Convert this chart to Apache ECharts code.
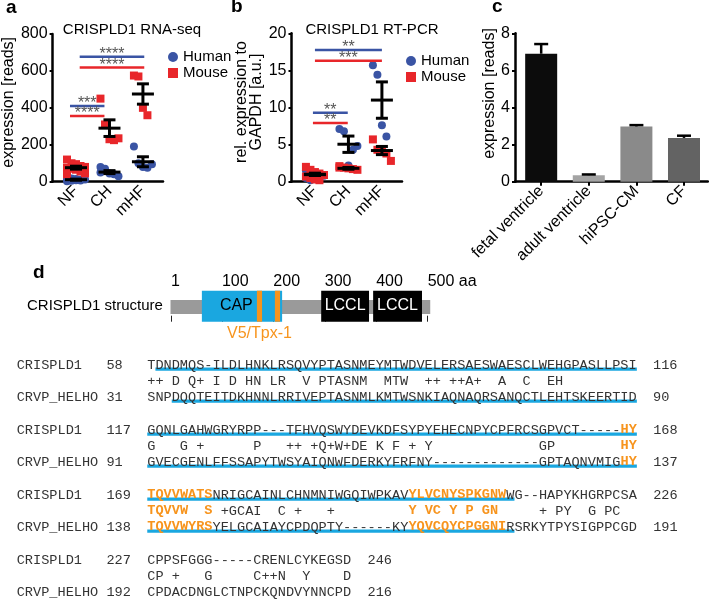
<!DOCTYPE html>
<html><head><meta charset="utf-8">
<script src="https://cdn.jsdelivr.net/npm/echarts@6/dist/echarts.min.js"></script>
<style>html,body{margin:0;padding:0;background:#fff}#c{width:709px;height:601px}</style>
</head><body><div id="c"></div>
<script>
// ---------------- data ----------------
const groupsAB = ['NF', 'CH', 'mHF'];
// panel a: RNA-seq reads
const rnaHuman = [[3, 5, 8, 10, 12, 15, 18, 14, 7], [80, 70, 45, 40, 30, 50, 60], [190, 100, 80, 75, 95]];
const rnaMouse = [[120, 100, 95, 85, 80, 75, 70, 65, 55, 45, 40], [450, 310, 230, 225, 235], [575, 570, 400, 360]];
const rnaHumanMean = [11, 52, 108], rnaHumanSem = [3, 8, 27];
const rnaMouseMean = [76, 290, 475], rnaMouseSem = [8, 45, 55];
const rnaSigFrom = [0.11, 0.11, -0.18, -0.18];
const rnaSigTo = [2.04, 2.04, 0.85, 0.85];
const rnaSigY = [677, 619, 410, 356];
const rnaSigSpecies = [0, 1, 0, 1]; // 0 human, 1 mouse
const rnaSigLabel = ['****', '****', '***', '****'];
// panel b: RT-PCR
const pcrHuman = [[1.5, 1.3, 1.1, 1.0, 0.8, 0.5, 0.2], [7.1, 6.8, 2.2, 4.3, 4.8], [15.7, 14.4, 7.6, 6.1]];
const pcrMouse = [[2.0, 1.6, 1.3, 1.1, 0.9, 0.7, 0.5, 0.3, 0.2, 0.9], [2.1, 1.9, 1.8, 1.7, 1.6, 1.9], [5.7, 4.3, 4.0, 3.8, 2.8]];
const pcrHumanMean = [1.0, 5.05, 11.0], pcrHumanSem = [0.15, 1.1, 2.45];
const pcrMouseMean = [0.95, 1.8, 4.2], pcrMouseSem = [0.1, 0.12, 0.55];
const pcrSigFrom = [0, 0, -0.06, -0.06];
const pcrSigTo = [2.0, 2.0, 0.98, 0.98];
const pcrSigY = [17.75, 16.3, 9.3, 7.9];
const pcrSigSpecies = [0, 1, 0, 1];
const pcrSigLabel = ['**', '***', '**', '**'];
// panel c
const tissues = ['fetal ventricle', 'adult ventricle', 'hiPSC-CM', 'CF'];
const tissueReads = [6.9, 0.35, 2.98, 2.36];
const tissueSem = [0.52, 0.04, 0.07, 0.12];
// panel d: structure (aa)
const structStart = [0, 61, 168, 203, 293, 394];
const structEnd = [505, 217, 178, 213, 386, 489];
const structKind = [0, 1, 2, 2, 3, 3]; // 0 backbone, 1 CAP, 2 V5/Tpx-1, 3 LCCL
const structScale = [1, 100, 200, 300, 400, 500];
const capLabelAt = 128, v5LabelAt = 173;
// panel d: alignment
const queryName = 'CRISPLD1', subjName = 'CRVP_HELHO';
const queryStarts = [58, 117, 169, 227], queryEnds = [116, 168, 226, 246];
const subjStarts = [31, 91, 138, 192], subjEnds = [90, 137, 191, 216];
const querySeqs = [
  'TDNDMQS-ILDLHNKLRSQVYPTASNMEYMTWDVELERSAESWAESCLWEHGPASLLPSI',
  'GQNLGAHWGRYRPP---TFHVQSWYDEVKDFSYPYEHECNPYCPFRCSGPVCT-----HY',
  'TQVVWATSNRIGCAINLCHNMNIWGQIWPKAVYLVCNYSPKGNWWG--HAPYKHGRPCSA',
  'CPPSFGGG-----CRENLCYKEGSD'
];
const midLines = [
  '++ D Q+ I D HN LR  V PTASNM  MTW  ++ ++A+  A  C  EH',
  'G   G +' + ' '.repeat(6) + 'P   ++ +Q+W+DE K F + Y' + ' '.repeat(13) + 'GP' + ' '.repeat(8) + 'HY',
  'TQVVW  S +GCAI  C +   +' + ' '.repeat(9) + 'Y VC Y P GN' + ' '.repeat(5) + '+ PY  G PC',
  'CP +   G     C++N  Y    D'
];
const subjSeqs = [
  'SNPDQQTEITDKHNNLRRIVEPTASNMLKMTWSNKIAQNAQRSANQCTLEHTSKEERTID',
  'GVECGENLFFSSAPYTWSYAIQNWFDERKYFRFNY' + '-'.repeat(13) + 'GPTAQNVMIGHY',
  'TQVVWYRSYELGCAIAYCPDQPTY------KYYQVCQYCPGGNIRSRKYTPYSIGPPCGD',
  'CPDACDNGLCTNPCKQNDVYNNCPD'
];
const highlightRanges = [[], [[59, 60]], [[1, 8], [33, 44]], []];
const queryUnderline = [[2, 60], [1, 60], [1, 45], null];
const subjUnderline = [[4, 60], [1, 60], [1, 45], null];

// ---------------- styles ----------------
const FONT = "'Liberation Sans', Arial, sans-serif";
const MONO = "'Liberation Mono', 'Courier New', monospace";
const BLUE = '#3a54a4', RED = '#e8262a', ORANGE = '#f7941d', CYAN = '#1aa7e0';
const tissueColors = ['#0c0c0c', '#a4a4a4', '#8a8a8a', '#636363'];

function scatterData(groups) {
  const out = [];
  groups.forEach((vals, g) => vals.forEach((v, i) => out.push({ value: [g, v], symbolOffset: [((i % 5) - 2) * 4.5, 0] })));
  return out;
}
function meanData(m, s) { return m.map((v, i) => [i, v, s[i]]); }
function renderMeanSem(params, api) {
  const x = api.value(0), m = api.value(1), s = api.value(2);
  const c = api.coord([x, m]), t = api.coord([x, m + s]), b = api.coord([x, m - s]);
  const st = { stroke: '#000', lineWidth: 3 };
  return { type: 'group', children: [
    { type: 'line', shape: { x1: c[0] - 11, y1: c[1], x2: c[0] + 11, y2: c[1] }, style: st },
    { type: 'line', shape: { x1: c[0], y1: t[1], x2: c[0], y2: b[1] }, style: st },
    { type: 'line', shape: { x1: c[0] - 6, y1: t[1], x2: c[0] + 6, y2: t[1] }, style: st },
    { type: 'line', shape: { x1: c[0] - 6, y1: b[1], x2: c[0] + 6, y2: b[1] }, style: st }
  ] };
}
function makeSigRender(labels) {
  return function (params, api) {
    const p1 = api.coord([api.value(0), api.value(2)]);
    const p2 = api.coord([api.value(1), api.value(2)]);
    const col = api.value(3) === 0 ? BLUE : RED;
    return { type: 'group', children: [
      { type: 'line', shape: { x1: p1[0], y1: p1[1], x2: p2[0], y2: p2[1] }, style: { stroke: col, lineWidth: 2.5 } },
      { type: 'text', x: (p1[0] + p2[0]) / 2, y: p1[1] - 2, style: { text: labels[params.dataIndex], fill: '#555', fontSize: 16, fontFamily: FONT, align: 'center', verticalAlign: 'middle' } }
    ] };
  };
}
function sigData(from, to, y, sp) { return from.map((f, i) => [f, to[i], y[i], sp[i]]); }

function renderStruct(params, api) {
  const k = api.value(2);
  const top = k === 0 ? 0.70 : 1, bot = k === 0 ? 0.25 : 0;
  const p0 = api.coord([api.value(0), top]), p1 = api.coord([api.value(1), bot]);
  const fills = ['#9a9a9a', CYAN, ORANGE, '#000'];
  const ch = [{ type: 'rect', shape: { x: p0[0], y: p0[1], width: p1[0] - p0[0], height: p1[1] - p0[1] }, style: { fill: fills[k] }, z2: k }];
  const txt = { fontSize: 16, fontFamily: FONT, align: 'center', verticalAlign: 'middle' };
  if (k === 1) {
    const c = api.coord([capLabelAt, 0.5]);
    ch.push({ type: 'text', x: c[0], y: c[1] - 1, z2: 5, style: Object.assign({ text: 'CAP', fill: '#000' }, txt) });
  }
  if (k === 3) {
    const c = api.coord([(api.value(0) + api.value(1)) / 2, 0.5]);
    ch.push({ type: 'text', x: c[0], y: c[1] - 1, z2: 5, style: Object.assign({ text: 'LCCL', fill: '#fff' }, txt) });
  }
  if (k === 2 && params.dataIndex === 2) {
    const c = api.coord([v5LabelAt, 0]);
    ch.push({ type: 'text', x: c[0], y: c[1] + 12, z2: 5, style: Object.assign({ text: 'V5/Tpx-1', fill: ORANGE }, txt) });
  }
  return { type: 'group', children: ch };
}

// ---------------- alignment graphics ----------------
const seqFont = 13.6, charW = seqFont * 0.6, col0X = 16.7;
const blockTop = 365, blockStep = 65, rowStep = 16;
function pad(s, n) { s = String(s); while (s.length < n) s += ' '; return s; }
const graphics = [];
function addRow(str, y, ranges) {
  const marks = new Array(str.length).fill(false);
  ranges.forEach(r => { for (let p = r[0]; p <= r[1]; p++) { const c = 15 + p; if (c < marks.length) marks[c] = true; } });
  let i = 0;
  while (i < str.length) {
    let j = i; const hl = marks[i];
    while (j < str.length && marks[j] === hl) j++;
    const seg = str.slice(i, j);
    if (seg.trim().length) {
      graphics.push({ type: 'text', x: col0X + i * charW, y: y, z: 10, silent: true,
        style: { text: seg, fontSize: seqFont, fontFamily: MONO, fontWeight: hl ? 'bold' : 'normal', fill: hl ? ORANGE : '#333', align: 'left', verticalAlign: 'middle' } });
    }
    i = j;
  }
}
function addUnderline(r, y) {
  if (!r) return;
  const x1 = col0X + (15 + r[0]) * charW, x2 = col0X + (16 + r[1]) * charW;
  graphics.push({ type: 'rect', z: 5, silent: true, shape: { x: x1, y: y + 2.5, width: x2 - x1, height: 3.2 }, style: { fill: CYAN } });
}
querySeqs.forEach((qs, b) => {
  const y0 = blockTop + b * blockStep;
  const qRow = pad(queryName, 11) + pad(queryStarts[b], 5) + qs + '  ' + queryEnds[b];
  const mRow = pad('', 16) + midLines[b];
  const sRow = pad(subjName, 11) + pad(subjStarts[b], 5) + subjSeqs[b] + '  ' + subjEnds[b];
  addUnderline(queryUnderline[b], y0);
  addUnderline(subjUnderline[b], y0 + 2 * rowStep);
  addRow(qRow, y0, highlightRanges[b]);
  addRow(mRow, y0 + rowStep, highlightRanges[b]);
  addRow(sRow, y0 + 2 * rowStep, highlightRanges[b]);
});
// panel labels & titles
const lab = (t, x, y) => ({ type: 'text', x: x, y: y, style: { text: t, fontSize: 19, fontWeight: 'bold', fontFamily: FONT, fill: '#000', align: 'left', verticalAlign: 'middle' } });
graphics.push(lab('a', 6, 8), lab('b', 231, 7), lab('c', 492, 7), lab('d', 33, 273));
const ttl = (t, x, y) => ({ type: 'text', x: x, y: y, style: { text: t, fontSize: 15, fontFamily: FONT, fill: '#000', align: 'center', verticalAlign: 'middle' } });
graphics.push(ttl('CRISPLD1 RNA-seq', 132, 30), ttl('CRISPLD1 RT-PCR', 372, 30));
graphics.push({ type: 'text', x: 27, y: 306, style: { text: 'CRISPLD1 structure', fontSize: 15, fontFamily: FONT, fill: '#000', align: 'left', verticalAlign: 'middle' } });

// ---------------- axes helpers ----------------
const axLine = { show: true, onZero: false, lineStyle: { color: '#000', width: 2.5 } };
const tickLab = { color: '#000', fontSize: 16, fontFamily: FONT };
function catX(grid, min, max, names) {
  return { type: 'value', gridIndex: grid, min: min, max: max, axisLine: axLine, splitLine: { show: false },
    axisTick: grid === 2 ? { show: true, customValues: names.map((n, i) => i), length: 4, lineStyle: { color: '#000', width: 2 } } : { show: false },
    axisLabel: Object.assign({ customValues: names.map((n, i) => i), formatter: v => names[v], rotate: 45, margin: 7 }, tickLab) };
}
function valY(grid, max, interval, name, gap, padLeft) {
  return { type: 'value', gridIndex: grid, min: 0, max: max, interval: interval, axisLine: axLine, splitLine: { show: false },
    axisTick: { show: true, length: 3, lineStyle: { color: '#000', width: 2 } },
    axisLabel: Object.assign({ margin: 5 }, tickLab),
    name: name, nameLocation: 'middle', nameGap: gap,
    nameTextStyle: { color: '#000', fontSize: 16, fontFamily: FONT, lineHeight: 15, padding: [0, 0, 0, padLeft] } };
}

const option = {
  animation: false,
  backgroundColor: '#fff',
  textStyle: { fontFamily: FONT },
  grid: [
    { left: 51.7, top: 34, width: 111.3, height: 147.7 },
    { left: 291.5, top: 33.3, width: 110.5, height: 148.4 },
    { left: 515, top: 33.3, width: 192.8, height: 148.4 },
    { left: 170.5, top: 290.7, width: 262.3, height: 31 }
  ],
  xAxis: [
    catX(0, -0.7, 2.6, groupsAB),
    catX(1, -0.7, 2.6, groupsAB),
    catX(2, -0.55, 3.5, tissues),
    { type: 'value', gridIndex: 3, min: 0, max: 510, position: 'top', axisLine: { show: false }, splitLine: { show: false },
      axisTick: { show: true, customValues: structScale, length: 6, lineStyle: { color: '#222', width: 1 } },
      axisLabel: Object.assign({ customValues: structScale, align: 'left', margin: 1, formatter: v => v === 500 ? '500 aa' : String(v) }, tickLab) }
  ],
  yAxis: [
    valY(0, 800, 200, 'expression [reads]', 33, 11),
    valY(1, 20, 5, 'rel. expression to\nGAPDH [a.u.]', 15, 11),
    valY(2, 8, 2, 'expression [reads]', 15, 28),
    { type: 'value', gridIndex: 3, min: 0, max: 1, show: false }
  ],
  legend: [
    { data: ['Human', 'Mouse'], orient: 'vertical', left: 163, top: 44, itemWidth: 10, itemHeight: 10, itemGap: 0, selectedMode: false, textStyle: { fontSize: 15, fontFamily: FONT, color: '#000', lineHeight: 16 } },
    { data: ['Human', 'Mouse'], orient: 'vertical', left: 401, top: 48, itemWidth: 10, itemHeight: 10, itemGap: 0, selectedMode: false, textStyle: { fontSize: 15, fontFamily: FONT, color: '#000', lineHeight: 16 } }
  ],
  series: [
    { name: 'Human', type: 'scatter', xAxisIndex: 0, yAxisIndex: 0, symbol: 'circle', symbolSize: 8, itemStyle: { color: BLUE, opacity: 1 }, data: scatterData(rnaHuman), z: 2 },
    { name: 'Mouse', type: 'scatter', xAxisIndex: 0, yAxisIndex: 0, symbol: 'rect', symbolSize: 8, itemStyle: { color: RED, opacity: 1 }, data: scatterData(rnaMouse), z: 2 },
    { type: 'custom', xAxisIndex: 0, yAxisIndex: 0, renderItem: renderMeanSem, data: meanData(rnaHumanMean, rnaHumanSem), z: 4 },
    { type: 'custom', xAxisIndex: 0, yAxisIndex: 0, renderItem: renderMeanSem, data: meanData(rnaMouseMean, rnaMouseSem), z: 4 },
    { type: 'custom', xAxisIndex: 0, yAxisIndex: 0, renderItem: makeSigRender(rnaSigLabel), data: sigData(rnaSigFrom, rnaSigTo, rnaSigY, rnaSigSpecies), z: 5 },

    { name: 'Human', type: 'scatter', xAxisIndex: 1, yAxisIndex: 1, symbol: 'circle', symbolSize: 8, itemStyle: { color: BLUE, opacity: 1 }, data: scatterData(pcrHuman), z: 2 },
    { name: 'Mouse', type: 'scatter', xAxisIndex: 1, yAxisIndex: 1, symbol: 'rect', symbolSize: 8, itemStyle: { color: RED, opacity: 1 }, data: scatterData(pcrMouse), z: 2 },
    { type: 'custom', xAxisIndex: 1, yAxisIndex: 1, renderItem: renderMeanSem, data: meanData(pcrHumanMean, pcrHumanSem), z: 4 },
    { type: 'custom', xAxisIndex: 1, yAxisIndex: 1, renderItem: renderMeanSem, data: meanData(pcrMouseMean, pcrMouseSem), z: 4 },
    { type: 'custom', xAxisIndex: 1, yAxisIndex: 1, renderItem: makeSigRender(pcrSigLabel), data: sigData(pcrSigFrom, pcrSigTo, pcrSigY, pcrSigSpecies), z: 5 },

    { type: 'bar', xAxisIndex: 2, yAxisIndex: 2, barWidth: 32, data: tissueReads.map((v, i) => ({ value: [i, v], itemStyle: { color: tissueColors[i] } })), z: 2 },
    { type: 'custom', xAxisIndex: 2, yAxisIndex: 2, z: 4, data: tissueReads.map((v, i) => [i, v, tissueSem[i]]),
      renderItem: function (params, api) {
        const b = api.coord([api.value(0), api.value(1)]), t = api.coord([api.value(0), api.value(1) + api.value(2)]);
        const st = { stroke: '#000', lineWidth: 2.5 };
        return { type: 'group', children: [
          { type: 'line', shape: { x1: b[0], y1: b[1], x2: t[0], y2: t[1] }, style: st },
          { type: 'line', shape: { x1: t[0] - 7, y1: t[1], x2: t[0] + 7, y2: t[1] }, style: st }
        ] };
      } },

    { type: 'custom', xAxisIndex: 3, yAxisIndex: 3, renderItem: renderStruct, data: structStart.map((s, i) => [s, structEnd[i], structKind[i]]), z: 2 }
  ],
  graphic: graphics
};
const chart = echarts.init(document.getElementById('c'), null, { renderer: 'canvas' });
chart.setOption(option);
</script>
</body></html>
